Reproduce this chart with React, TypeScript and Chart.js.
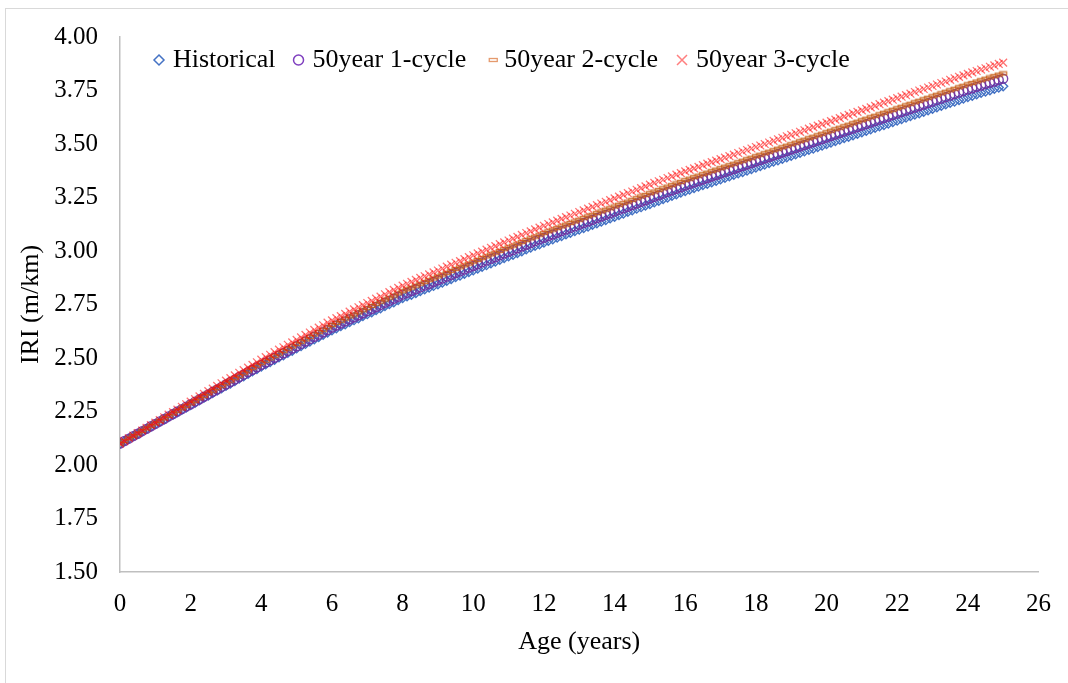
import React, { useEffect, useRef } from 'react';
import { Chart, registerables } from 'chart.js';

Chart.register(...registerables);

const ages = [
  0, 0.125, 0.25, 0.375, 0.5, 0.625, 0.75, 0.875,
  1, 1.125, 1.25, 1.375, 1.5, 1.625, 1.75, 1.875,
  2, 2.125, 2.25, 2.375, 2.5, 2.625, 2.75, 2.875,
  3, 3.125, 3.25, 3.375, 3.5, 3.625, 3.75, 3.875,
  4, 4.125, 4.25, 4.375, 4.5, 4.625, 4.75, 4.875,
  5, 5.125, 5.25, 5.375, 5.5, 5.625, 5.75, 5.875,
  6, 6.125, 6.25, 6.375, 6.5, 6.625, 6.75, 6.875,
  7, 7.125, 7.25, 7.375, 7.5, 7.625, 7.75, 7.875,
  8, 8.125, 8.25, 8.375, 8.5, 8.625, 8.75, 8.875,
  9, 9.125, 9.25, 9.375, 9.5, 9.625, 9.75, 9.875,
  10, 10.125, 10.25, 10.375, 10.5, 10.625, 10.75, 10.875,
  11, 11.125, 11.25, 11.375, 11.5, 11.625, 11.75, 11.875,
  12, 12.125, 12.25, 12.375, 12.5, 12.625, 12.75, 12.875,
  13, 13.125, 13.25, 13.375, 13.5, 13.625, 13.75, 13.875,
  14, 14.125, 14.25, 14.375, 14.5, 14.625, 14.75, 14.875,
  15, 15.125, 15.25, 15.375, 15.5, 15.625, 15.75, 15.875,
  16, 16.125, 16.25, 16.375, 16.5, 16.625, 16.75, 16.875,
  17, 17.125, 17.25, 17.375, 17.5, 17.625, 17.75, 17.875,
  18, 18.125, 18.25, 18.375, 18.5, 18.625, 18.75, 18.875,
  19, 19.125, 19.25, 19.375, 19.5, 19.625, 19.75, 19.875,
  20, 20.125, 20.25, 20.375, 20.5, 20.625, 20.75, 20.875,
  21, 21.125, 21.25, 21.375, 21.5, 21.625, 21.75, 21.875,
  22, 22.125, 22.25, 22.375, 22.5, 22.625, 22.75, 22.875,
  23, 23.125, 23.25, 23.375, 23.5, 23.625, 23.75, 23.875,
  24, 24.125, 24.25, 24.375, 24.5, 24.625, 24.75, 24.875,
  25,
];

const historical = [
  2.100, 2.111, 2.123, 2.134, 2.145, 2.156, 2.168, 2.179,
  2.190, 2.201, 2.213, 2.224, 2.235, 2.246, 2.258, 2.269,
  2.280, 2.291, 2.303, 2.314, 2.325, 2.336, 2.348, 2.359,
  2.370, 2.381, 2.393, 2.404, 2.415, 2.426, 2.438, 2.449,
  2.460, 2.471, 2.481, 2.492, 2.503, 2.513, 2.524, 2.534,
  2.545, 2.556, 2.566, 2.577, 2.588, 2.598, 2.609, 2.619,
  2.630, 2.639, 2.649, 2.658, 2.668, 2.677, 2.686, 2.696,
  2.705, 2.714, 2.724, 2.733, 2.743, 2.752, 2.761, 2.771,
  2.780, 2.788, 2.796, 2.804, 2.813, 2.821, 2.829, 2.837,
  2.845, 2.853, 2.861, 2.869, 2.878, 2.886, 2.894, 2.902,
  2.910, 2.918, 2.926, 2.934, 2.943, 2.951, 2.959, 2.967,
  2.975, 2.983, 2.991, 2.999, 3.008, 3.016, 3.024, 3.032,
  3.040, 3.048, 3.055, 3.063, 3.070, 3.078, 3.085, 3.093,
  3.100, 3.108, 3.115, 3.123, 3.130, 3.138, 3.145, 3.153,
  3.160, 3.168, 3.175, 3.183, 3.190, 3.198, 3.205, 3.213,
  3.220, 3.228, 3.235, 3.243, 3.250, 3.258, 3.265, 3.273,
  3.280, 3.287, 3.294, 3.301, 3.308, 3.314, 3.321, 3.328,
  3.335, 3.342, 3.349, 3.356, 3.363, 3.369, 3.376, 3.383,
  3.390, 3.397, 3.404, 3.411, 3.418, 3.424, 3.431, 3.438,
  3.445, 3.452, 3.459, 3.466, 3.473, 3.479, 3.486, 3.493,
  3.500, 3.507, 3.514, 3.521, 3.528, 3.534, 3.541, 3.548,
  3.555, 3.562, 3.569, 3.576, 3.583, 3.589, 3.596, 3.603,
  3.610, 3.617, 3.624, 3.631, 3.638, 3.644, 3.651, 3.658,
  3.665, 3.672, 3.679, 3.686, 3.693, 3.699, 3.706, 3.713,
  3.720, 3.726, 3.733, 3.739, 3.745, 3.751, 3.758, 3.764,
  3.770,
];

const cycle1 = [
  2.100, 2.112, 2.123, 2.135, 2.146, 2.158, 2.169, 2.181,
  2.192, 2.204, 2.215, 2.227, 2.238, 2.250, 2.261, 2.273,
  2.284, 2.296, 2.307, 2.319, 2.330, 2.342, 2.353, 2.365,
  2.376, 2.388, 2.399, 2.411, 2.422, 2.434, 2.445, 2.457,
  2.468, 2.479, 2.490, 2.501, 2.512, 2.522, 2.533, 2.544,
  2.555, 2.566, 2.577, 2.588, 2.599, 2.609, 2.620, 2.631,
  2.642, 2.652, 2.661, 2.671, 2.681, 2.690, 2.700, 2.709,
  2.719, 2.729, 2.738, 2.748, 2.758, 2.767, 2.777, 2.786,
  2.796, 2.804, 2.813, 2.821, 2.830, 2.838, 2.846, 2.855,
  2.863, 2.871, 2.880, 2.888, 2.897, 2.905, 2.913, 2.922,
  2.930, 2.938, 2.947, 2.955, 2.963, 2.971, 2.980, 2.988,
  2.996, 3.004, 3.013, 3.021, 3.029, 3.037, 3.046, 3.054,
  3.062, 3.070, 3.077, 3.085, 3.093, 3.100, 3.108, 3.115,
  3.123, 3.131, 3.138, 3.146, 3.154, 3.161, 3.169, 3.176,
  3.184, 3.192, 3.199, 3.207, 3.215, 3.222, 3.230, 3.237,
  3.245, 3.253, 3.260, 3.268, 3.276, 3.283, 3.291, 3.298,
  3.306, 3.313, 3.320, 3.327, 3.334, 3.341, 3.348, 3.355,
  3.362, 3.369, 3.376, 3.383, 3.390, 3.397, 3.404, 3.411,
  3.418, 3.425, 3.432, 3.439, 3.446, 3.453, 3.460, 3.467,
  3.474, 3.481, 3.488, 3.495, 3.502, 3.509, 3.516, 3.523,
  3.530, 3.537, 3.544, 3.551, 3.558, 3.565, 3.572, 3.579,
  3.586, 3.593, 3.600, 3.607, 3.614, 3.621, 3.628, 3.635,
  3.642, 3.649, 3.656, 3.663, 3.670, 3.677, 3.684, 3.691,
  3.698, 3.705, 3.712, 3.719, 3.726, 3.733, 3.740, 3.747,
  3.754, 3.760, 3.767, 3.773, 3.780, 3.786, 3.792, 3.799,
  3.805,
];

const cycle2 = [
  2.100, 2.112, 2.124, 2.135, 2.147, 2.159, 2.171, 2.182,
  2.194, 2.206, 2.218, 2.229, 2.241, 2.253, 2.265, 2.276,
  2.288, 2.300, 2.312, 2.323, 2.335, 2.347, 2.359, 2.370,
  2.382, 2.394, 2.406, 2.417, 2.429, 2.441, 2.453, 2.464,
  2.476, 2.487, 2.498, 2.509, 2.521, 2.532, 2.543, 2.554,
  2.565, 2.576, 2.587, 2.598, 2.610, 2.621, 2.632, 2.643,
  2.654, 2.664, 2.674, 2.684, 2.694, 2.703, 2.713, 2.723,
  2.733, 2.743, 2.753, 2.763, 2.773, 2.782, 2.792, 2.802,
  2.812, 2.821, 2.829, 2.838, 2.847, 2.855, 2.864, 2.872,
  2.881, 2.890, 2.898, 2.907, 2.916, 2.924, 2.933, 2.941,
  2.950, 2.958, 2.967, 2.975, 2.984, 2.992, 3.000, 3.009,
  3.017, 3.025, 3.034, 3.042, 3.051, 3.059, 3.067, 3.076,
  3.084, 3.092, 3.100, 3.107, 3.115, 3.123, 3.131, 3.138,
  3.146, 3.154, 3.162, 3.169, 3.177, 3.185, 3.193, 3.200,
  3.208, 3.216, 3.224, 3.231, 3.239, 3.247, 3.255, 3.262,
  3.270, 3.278, 3.285, 3.293, 3.301, 3.308, 3.316, 3.323,
  3.331, 3.338, 3.345, 3.352, 3.359, 3.366, 3.373, 3.380,
  3.387, 3.394, 3.401, 3.408, 3.415, 3.422, 3.429, 3.436,
  3.443, 3.450, 3.457, 3.464, 3.471, 3.478, 3.485, 3.492,
  3.499, 3.506, 3.513, 3.520, 3.527, 3.534, 3.541, 3.548,
  3.555, 3.562, 3.569, 3.576, 3.583, 3.590, 3.597, 3.604,
  3.611, 3.618, 3.625, 3.632, 3.639, 3.646, 3.653, 3.660,
  3.667, 3.674, 3.681, 3.688, 3.695, 3.702, 3.709, 3.716,
  3.723, 3.730, 3.737, 3.744, 3.751, 3.758, 3.765, 3.772,
  3.779, 3.785, 3.792, 3.798, 3.805, 3.811, 3.817, 3.824,
  3.830,
];

const cycle3 = [
  2.100, 2.112, 2.125, 2.137, 2.149, 2.161, 2.174, 2.186,
  2.198, 2.210, 2.223, 2.235, 2.247, 2.259, 2.272, 2.284,
  2.296, 2.308, 2.321, 2.333, 2.345, 2.357, 2.370, 2.382,
  2.394, 2.406, 2.419, 2.431, 2.443, 2.455, 2.468, 2.480,
  2.492, 2.504, 2.515, 2.527, 2.539, 2.550, 2.562, 2.573,
  2.585, 2.596, 2.608, 2.619, 2.631, 2.642, 2.653, 2.665,
  2.676, 2.686, 2.696, 2.706, 2.717, 2.727, 2.737, 2.747,
  2.757, 2.767, 2.777, 2.787, 2.798, 2.808, 2.818, 2.828,
  2.838, 2.847, 2.856, 2.865, 2.874, 2.882, 2.891, 2.900,
  2.909, 2.918, 2.927, 2.936, 2.945, 2.953, 2.962, 2.971,
  2.980, 2.989, 2.997, 3.006, 3.015, 3.023, 3.032, 3.040,
  3.049, 3.058, 3.066, 3.075, 3.084, 3.092, 3.101, 3.109,
  3.118, 3.126, 3.134, 3.142, 3.150, 3.158, 3.166, 3.174,
  3.182, 3.190, 3.198, 3.206, 3.214, 3.222, 3.230, 3.238,
  3.246, 3.254, 3.262, 3.270, 3.278, 3.286, 3.294, 3.302,
  3.310, 3.318, 3.326, 3.333, 3.341, 3.349, 3.357, 3.364,
  3.372, 3.379, 3.386, 3.393, 3.401, 3.408, 3.415, 3.422,
  3.429, 3.436, 3.443, 3.450, 3.458, 3.465, 3.472, 3.479,
  3.486, 3.493, 3.500, 3.507, 3.515, 3.522, 3.529, 3.536,
  3.543, 3.550, 3.557, 3.564, 3.572, 3.579, 3.586, 3.593,
  3.600, 3.607, 3.614, 3.621, 3.629, 3.636, 3.643, 3.650,
  3.657, 3.664, 3.671, 3.678, 3.686, 3.693, 3.700, 3.707,
  3.714, 3.721, 3.728, 3.735, 3.743, 3.750, 3.757, 3.764,
  3.771, 3.778, 3.785, 3.792, 3.800, 3.807, 3.814, 3.821,
  3.828, 3.835, 3.841, 3.848, 3.854, 3.861, 3.867, 3.874,
  3.880,
];

const seriesLabels = ['Historical', '50year 1-cycle', '50year 2-cycle', '50year 3-cycle'];

const FONT = '"Liberation Serif", "Times New Roman", serif';
const BLUE = '#4472C4';
const PURPLE = 'rgba(112,48,160,0.9)';
const ORANGE = 'rgba(197,90,17,0.8)';
const RED = 'rgba(255,0,0,0.55)';

function drawLegendMarker(ctx: CanvasRenderingContext2D, i: number, x: number, y: number) {
  ctx.save();
  ctx.lineWidth = 1.5;
  if (i === 0) {
    ctx.strokeStyle = BLUE;
    ctx.beginPath();
    ctx.moveTo(x, y - 5);
    ctx.lineTo(x + 5, y);
    ctx.lineTo(x, y + 5);
    ctx.lineTo(x - 5, y);
    ctx.closePath();
    ctx.stroke();
  } else if (i === 1) {
    ctx.strokeStyle = '#7F3FBF';
    ctx.beginPath();
    ctx.arc(x, y, 5, 0, Math.PI * 2);
    ctx.stroke();
  } else if (i === 2) {
    ctx.strokeStyle = 'rgba(220,120,60,0.75)';
    ctx.lineWidth = 1.3;
    ctx.strokeRect(x - 4, y - 1.5, 8, 3);
  } else {
    ctx.strokeStyle = 'rgba(255,0,0,0.5)';
    ctx.beginPath();
    ctx.moveTo(x - 5, y - 5);
    ctx.lineTo(x + 5, y + 5);
    ctx.moveTo(x + 5, y - 5);
    ctx.lineTo(x - 5, y + 5);
    ctx.stroke();
  }
  ctx.restore();
}

const legendGaps = [23, 27, 24, 0];

const legendPlugin = {
  id: 'customLegend',
  afterDatasetsDraw(chart: any) {
    const ctx: CanvasRenderingContext2D = chart.ctx;
    const area = chart.chartArea;
    ctx.save();
    ctx.font = `26px ${FONT}`;
    ctx.fillStyle = '#000';
    ctx.textBaseline = 'alphabetic';
    ctx.textAlign = 'left';
    let cx = area.left + 39;
    const my = 60;
    seriesLabels.forEach((label, i) => {
      drawLegendMarker(ctx, i, cx, my);
      const tx = cx + (i === 2 ? 11 : 14);
      ctx.fillText(label, tx, 67);
      const w = ctx.measureText(label).width;
      cx = tx + w + legendGaps[i];
    });
    ctx.restore();
  },
};

export default function App() {
  const canvasRef = useRef<HTMLCanvasElement | null>(null);

  useEffect(() => {
    if (!canvasRef.current) return;
    const dash = document.createElement('canvas');
    dash.width = 10;
    dash.height = 6;
    const dctx = dash.getContext('2d')!;
    dctx.strokeStyle = ORANGE;
    dctx.lineWidth = 1.4;
    dctx.strokeRect(1.5, 1.5, 7, 3);

    const toPts = (vals: number[]) => ages.map((a, i) => ({ x: a, y: vals[i] }));
    const tickFont = { family: FONT, size: 25 };
    const titleFont = { family: FONT, size: 26 };

    const chart = new Chart(canvasRef.current, {
      type: 'scatter',
      data: {
        datasets: [
          {
            label: seriesLabels[0],
            data: toPts(historical),
            pointStyle: 'rectRot',
            pointRadius: 4.5,
            borderColor: BLUE,
            backgroundColor: 'transparent',
            borderWidth: 1.4,
            order: 3,
          },
          {
            label: seriesLabels[1],
            data: toPts(cycle1),
            pointStyle: 'circle',
            pointRadius: 4.5,
            borderColor: PURPLE,
            backgroundColor: 'transparent',
            borderWidth: 1.4,
            order: 2,
          },
          {
            label: seriesLabels[2],
            data: toPts(cycle2),
            pointStyle: dash as any,
            pointRadius: 4,
            borderColor: ORANGE,
            backgroundColor: 'transparent',
            borderWidth: 1.2,
            order: 1,
          },
          {
            label: seriesLabels[3],
            data: toPts(cycle3),
            pointStyle: 'crossRot',
            pointRadius: 5.5,
            borderColor: RED,
            backgroundColor: 'transparent',
            borderWidth: 1.3,
            order: 0,
          },
        ],
      },
      options: {
        animation: false,
        responsive: false,
        maintainAspectRatio: false,
        layout: { padding: { top: 37, right: 23, bottom: 0, left: 0 } },
        plugins: {
          legend: { display: false },
          tooltip: { enabled: false },
        },
        scales: {
          x: {
            type: 'linear',
            min: 0,
            max: 26,
            afterFit: (s: any) => {
              s.height = 111;
            },
            ticks: {
              stepSize: 2,
              font: tickFont,
              color: '#000',
              padding: 17,
              maxRotation: 0,
            },
            grid: { display: false, drawTicks: false },
            border: { display: true, color: '#BFBFBF', width: 1.5 },
            title: {
              display: true,
              text: 'Age (years)',
              font: titleFont,
              color: '#000',
              padding: { top: 0, bottom: 25 },
            },
          },
          y: {
            min: 1.5,
            max: 4,
            afterFit: (s: any) => {
              s.width = 120;
            },
            ticks: {
              stepSize: 0.25,
              font: tickFont,
              color: '#000',
              padding: 22,
              callback: (v: any) => Number(v).toFixed(2),
            },
            grid: { display: false, drawTicks: false },
            border: { display: true, color: '#BFBFBF', width: 1.5 },
            title: {
              display: true,
              text: 'IRI (m/km)',
              font: titleFont,
              color: '#000',
              padding: { top: 16, bottom: 0 },
            },
          },
        },
      },
      plugins: [legendPlugin],
    });
    return () => chart.destroy();
  }, []);

  return (
    <div style={{ position: 'fixed', left: 0, top: 0, width: 1068, height: 683, background: '#fff', overflow: 'hidden' }}>
      <div
        style={{
          position: 'absolute',
          left: 5,
          top: 8,
          width: 1100,
          height: 700,
          border: '1.5px solid #D9D9D9',
        }}
      />
      <canvas ref={canvasRef} width={1068} height={683} style={{ position: 'absolute', left: 0, top: 0 }} />
    </div>
  );
}
